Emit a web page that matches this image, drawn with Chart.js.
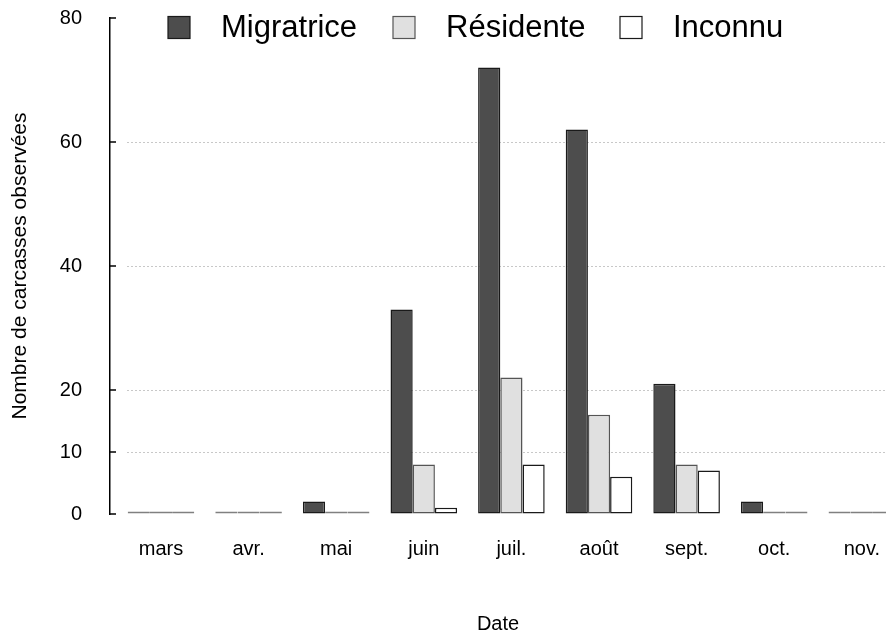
<!DOCTYPE html>
<html>
<head>
<meta charset="utf-8">
<script src="https://cdn.jsdelivr.net/npm/chart.js@4.4.0/dist/chart.umd.min.js"></script>
<style>
html,body{margin:0;padding:0;background:#fff;overflow:hidden}
#wrap{width:886px;height:635px}
</style>
</head>
<body>
<div id="wrap"><canvas id="chart" width="886" height="635"></canvas></div>
<script>
// month labels (x) and carcass counts per status
var months = ['mars','avr.','mai','juin','juil.','août','sept.','oct.','nov.'];
var migratrice = [0,0,2,33,72,62,21,2,0];
var residente = [0,0,0,8,22,16,8,0,0];
var inconnu = [0,0,0,1,8,6,7,0,0];
var yTicks = [0,10,20,40,60,80];
var seriesNames = ['Migratrice','Résidente','Inconnu'];

var FONT = "'Liberation Sans', Arial, sans-serif";
var legendX = [168, 393, 620];

function toPoints(arr){
  var list = [];
  for(var i=0;i<arr.length;i++){
    list[i] = {x:i, y:arr[i]};
  }
  return list;
}

function zeroGray(color){
  return function(ctx){
    if(ctx.raw && ctx.raw.y === 0) return '#808080';
    return color;
  };
}

function makeSet(name, values, fill, border){
  return {
    label: name,
    data: toPoints(values),
    backgroundColor: fill,
    borderColor: zeroGray(border),
    legendBorder: border,
    borderWidth: 1.5,
    borderSkipped: false,
    minBarLength: 2.5,
    categoryPercentage: 0.76,
    barPercentage: 1
  };
}

// dotted grid + inward tick marks, like the original R plot
var decor = {
  id: 'decor',
  beforeDatasetsDraw: function(chart){
    var ctx = chart.ctx, area = chart.chartArea, ys = chart.scales.y;
    ctx.save();
    ctx.strokeStyle = '#c8c8c8';
    ctx.lineWidth = 1;
    ctx.setLineDash([2,2]);
    for(var i=0;i<yTicks.length;i++){
      var v = yTicks[i];
      if(v === 0 || v === 80) continue;
      var py = Math.round(ys.getPixelForValue(v)) + 0.5;
      ctx.beginPath();
      ctx.moveTo(area.left + 17, py);
      ctx.lineTo(area.right, py);
      ctx.stroke();
    }
    ctx.setLineDash([]);
    ctx.strokeStyle = '#000';
    ctx.lineWidth = 1.5;
    for(var j=0;j<yTicks.length;j++){
      var p = ys.getPixelForValue(yTicks[j]);
      ctx.beginPath();
      ctx.moveTo(area.left, p);
      ctx.lineTo(area.left + 6, p);
      ctx.stroke();
    }
    ctx.restore();
  },
  afterDatasetsDraw: function(chart){
    // legend drawn inside the plot area
    var ctx = chart.ctx;
    var sets = chart.data.datasets;
    ctx.save();
    ctx.font = '31px ' + FONT;
    ctx.textBaseline = 'alphabetic';
    for(var i=0;i<sets.length;i++){
      var x = legendX[i];
      ctx.fillStyle = sets[i].backgroundColor;
      ctx.fillRect(x, 16.5, 22, 22);
      ctx.strokeStyle = sets[i].legendBorder;
      ctx.lineWidth = 1.2;
      ctx.strokeRect(x, 16.5, 22, 22);
      ctx.fillStyle = '#000';
      ctx.fillText(sets[i].label, x + 53, 37);
    }
    ctx.restore();
  }
};

new Chart(document.getElementById('chart'), {
  type: 'bar',
  data: {
    datasets: [
      makeSet(seriesNames[0], migratrice, '#4d4d4d', '#1a1a1a'),
      makeSet(seriesNames[1], residente, '#e0e0e0', '#555555'),
      makeSet(seriesNames[2], inconnu, '#ffffff', '#1a1a1a')
    ]
  },
  options: {
    responsive: false,
    animation: false,
    layout: {padding: {top: 18, left: 0, right: 0, bottom: 0}},
    plugins: {
      legend: {display: false},
      tooltip: {enabled: false}
    },
    scales: {
      x: {
        type: 'linear',
        min: -0.582,
        max: 8.276,
        offset: false,
        afterBuildTicks: function(axis){
          axis.ticks = months.map(function(m, i){ return {value: i}; });
        },
        afterFit: function(axis){
          axis.height = 121;
          axis.paddingLeft = 0;
          axis.paddingRight = 0;
        },
        grid: {display: false, offset: false},
        border: {display: false},
        ticks: {
          padding: 15,
          color: '#000',
          maxRotation: 0,
          autoSkip: false,
          font: {family: FONT, size: 20},
          callback: function(v){ return months[v] !== undefined ? months[v] : ''; }
        },
        title: {
          display: true,
          text: 'Date',
          color: '#000',
          font: {family: FONT, size: 20},
          padding: {top: 0, bottom: -1}
        }
      },
      y: {
        min: 0,
        max: 80,
        afterBuildTicks: function(axis){
          axis.ticks = yTicks.map(function(v){ return {value: v}; });
        },
        afterFit: function(axis){
          axis.width = 110;
          axis.paddingTop = 0;
          axis.paddingBottom = 0;
        },
        grid: {display: true, drawOnChartArea: false, drawTicks: false},
        border: {display: true, color: '#000', width: 1.5},
        ticks: {
          padding: 28,
          color: '#000',
          font: {family: FONT, size: 20}
        },
        title: {
          display: true,
          text: 'Nombre de carcasses observées',
          color: '#000',
          font: {family: FONT, size: 21},
          padding: {top: 8, bottom: 0}
        }
      }
    }
  },
  plugins: [decor]
});
</script>
</body>
</html>
